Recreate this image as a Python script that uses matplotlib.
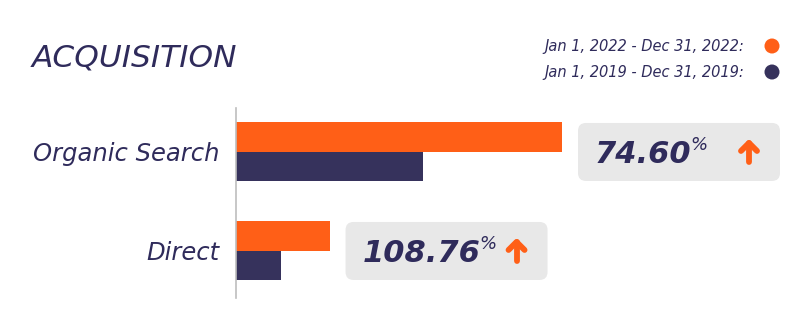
import matplotlib.pyplot as plt
from matplotlib.patches import FancyBboxPatch, Circle
from matplotlib.lines import Line2D

# Sessions by channel, two comparison periods
channels = ["Organic Search", "Direct"]
sessions_2022 = [1746.0, 501.02]
sessions_2019 = [1000.0, 240.0]
period_labels = ["Jan 1, 2022 - Dec 31, 2022:", "Jan 1, 2019 - Dec 31, 2019:"]

ORANGE = "#FF5F17"
NAVY = "#36325C"
TEXT = "#2F2B5B"
BOX = "#E8E8E8"
FONT = "DejaVu Sans"

W, H = 810, 326
fig = plt.figure(figsize=(W / 100, H / 100), dpi=100)
fig.patch.set_facecolor("white")


def fx(px):
    return px / W


def fy(py_top):
    # pixel row measured from the top -> figure fraction
    return 1 - py_top / H


ax = fig.add_axes([fx(236), fy(298), fx(800 - 236), (298 - 108) / H])
ax.set_facecolor("none")

ypos = [1, 0]
bh = 0.298
ax.barh([y + bh / 2 for y in ypos], sessions_2022, height=bh, color=ORANGE)
ax.barh([y - bh / 2 for y in ypos], sessions_2019, height=bh, color=NAVY)

ax.set_xlim(0, 1746 * (800 - 236) / 326)
ax.set_ylim(-0.475, 1.444)
for s in ["top", "right", "bottom"]:
    ax.spines[s].set_visible(False)
ax.spines["left"].set_color("#BDBDBD")
ax.spines["left"].set_linewidth(1.2)
ax.set_xticks([])
ax.set_yticks(ypos)
ax.set_yticklabels(channels, fontsize=17.5, style="italic", color=TEXT, family=FONT)
ax.tick_params(axis="y", length=0, pad=12)

# title
fig.text(fx(32), fy(66), "ACQUISITION", fontsize=22.5, style="italic",
         color=TEXT, family=FONT, ha="left", va="baseline")

# legend on the right
for i, (lab, col) in enumerate(zip(period_labels, [ORANGE, NAVY])):
    base = 51 + 26 * i
    fig.text(fx(744), fy(base), lab, fontsize=10.5, style="italic", color=TEXT,
             family=FONT, ha="right", va="baseline")
    fig.add_artist(Circle((772, H - (46 + 26 * i)), 7.5, transform=None,
                          color=col, lw=0))

# change badges next to each bar pair
fig.canvas.draw()
renderer = fig.canvas.get_renderer()
for y, new, old in zip(ypos, sessions_2022, sessions_2019):
    change = (new / old - 1) * 100
    bx, by = ax.transData.transform((new, y))
    left = bx + 16
    box = FancyBboxPatch((left, by - 29), 202, 58, transform=None,
                         boxstyle="round,pad=0,rounding_size=8", fc=BOX, ec="none")
    fig.add_artist(box)
    num = fig.text((left + 17) / W, (by - 11) / H, f"{change:.2f}", fontsize=22,
                   style="italic", fontweight="bold", color=TEXT, family=FONT,
                   ha="left", va="baseline")
    ext = num.get_window_extent(renderer)
    fig.text((ext.x1 - 1) / W, (by + 2) / H, "%", fontsize=13, style="italic",
             color=TEXT, family=FONT, ha="left", va="baseline")
    # up arrow
    cx = left + 171
    fig.add_artist(Line2D([cx, cx], [by - 10, by + 9], transform=None,
                          color=ORANGE, lw=4.2, solid_capstyle="round"))
    fig.add_artist(Line2D([cx - 8, cx, cx + 8], [by + 1, by + 9, by + 1], transform=None,
                          color=ORANGE, lw=4.2, solid_capstyle="round",
                          solid_joinstyle="round"))

fig.savefig("out.png", dpi=100, facecolor="white")
